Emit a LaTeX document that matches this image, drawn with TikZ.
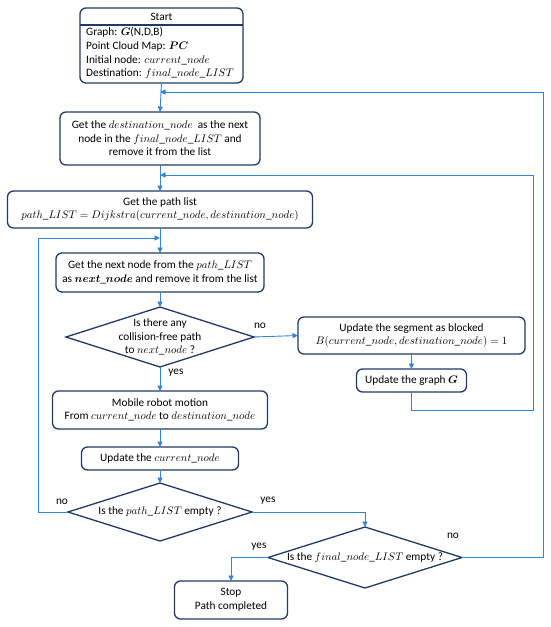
\documentclass[tikz,border=0pt]{standalone}
\usepackage{amsmath}
\usepackage{fontspec}
\setmainfont{Carlito}
\DeclareMathSizes{11.3}{10.6}{7.5}{5.5}
\usetikzlibrary{shapes.geometric,arrows.meta}
\definecolor{navy}{HTML}{1F3B66}
\definecolor{flow}{HTML}{3583D4}
\tikzset{
  box/.style={draw=navy, line width=1.3pt, rounded corners=6pt, inner sep=0pt, outer sep=0pt, align=center, font=\fontsize{11.3}{13.6}\selectfont},
  dia/.style={draw=navy, line width=1.3pt, diamond, inner sep=0pt, outer sep=0pt},
  txt/.style={align=center, inner sep=0pt, font=\fontsize{11.3}{13.6}\selectfont},
  lbl/.style={inner sep=0pt, font=\fontsize{11.3}{13.6}\selectfont},
  flowline/.style={draw=flow, line width=0.9pt},
  arr/.style={flowline, -{Triangle[length=5.5pt,width=5pt]}}
}
\begin{document}
\begin{tikzpicture}[x=1pt,y=-1pt]
\useasboundingbox (0,0) rectangle (550,627);
% Start box
\node[box, minimum width=163pt, minimum height=75pt] (start) at (161.5,45.5) {};
\draw[navy, line width=1.1pt] (start.west |- 0,25) -- (start.east |- 0,25);
\node[txt, anchor=center] (starttitle) at (161.5,17) {Start};
\node[txt, anchor=north west, align=left] (starttext) at (86,27.5) {Graph: $\boldsymbol{G}$(N,D,B)\\Point Cloud Map: $\boldsymbol{PC}$\\Initial node: $current\_node$\\Destination: $final\_node\_LIST$};
% Boxes
\node[box, minimum width=200pt, minimum height=53pt] (getdest) at (160,138.5) {Get the $destination\_node$ \ as the next\\node in the $final\_node\_LIST$ and\\remove it from the list};
\node[box, minimum width=305pt, minimum height=37pt] (pathlist) at (160,209.5) {Get the path list\\$path\_LIST = Dijkstra(current\_node, destination\_node)$};
\node[box, minimum width=208pt, minimum height=39pt] (nextnode) at (160,272.5) {Get the next node from the $path\_LIST$\\as $\boldsymbol{next\_node}$ and remove it from the list};
\node[dia, minimum width=188pt, minimum height=60pt] (d1) at (160,337) {};
\node[txt] (d1t) at (160,337) {Is there any\\collision-free path\\to $next\_node$ ?};
\node[box, minimum width=227pt, minimum height=37pt] (blocked) at (411.5,335.5) {Update the segment as blocked\\$B(current\_node, destination\_node) = 1$};
\node[box, minimum width=110pt, minimum height=23pt] (graph) at (411.5,380.5) {Update the graph $\boldsymbol{G}$};
\node[box, minimum width=215pt, minimum height=38pt] (motion) at (160,410) {Mobile robot motion\\From $current\_node$ to $destination\_node$};
\node[box, minimum width=157pt, minimum height=23pt] (updcur) at (160,458.5) {Update the $current\_node$};
\node[dia, minimum width=184pt, minimum height=58pt] (d2) at (160,512) {};
\node[txt] (d2t) at (160,512) {Is the $path\_LIST$ empty ?};
\node[dia, minimum width=194pt, minimum height=61pt] (d3) at (365,557.5) {};
\node[txt] (d3t) at (365,557.5) {Is the $final\_node\_LIST$ empty ?};
\node[box, minimum width=113pt, minimum height=38pt] (stop) at (231,600) {Stop\\Path completed};
% Junction coordinates
\coordinate (j1) at (160,92);
\coordinate (j2) at (160,175);
\coordinate (j3) at (160,238);
\coordinate (r1) at (533,410);
\coordinate (r2) at (543,92);
\coordinate (l1) at (38,238);
% Connectors
\draw[arr] (start.south) -- (getdest.north);
\draw[arr] (getdest.south) -- (pathlist.north);
\draw[arr] (pathlist.south) -- (nextnode.north);
\draw[arr] (nextnode.south) -- (d1.north);
\draw[arr] (d1.east) -- (blocked.west);
\draw[arr] (blocked.south) -- (graph.north);
\draw[arr] (graph.south) |- (r1) |- (j2);
\draw[arr] (d1.south) -- (motion.north);
\draw[arr] (motion.south) -- (updcur.north);
\draw[arr] (updcur.south) -- (d2.north);
\draw[arr] (d2.west) -| (l1) -- (j3);
\draw[arr] (d2.east) -| (d3.north);
\draw[arr] (d3.east) -| (r2) -- (j1);
\draw[arr] (d3.west) -| (stop.north);
% Labels
\node[lbl] (no1) at (260,326) {no};
\node[lbl] (yes1) at (176,373) {yes};
\node[lbl] (no2) at (62,502) {no};
\node[lbl] (yes2) at (268,501) {yes};
\node[lbl] (no3) at (453,536) {no};
\node[lbl] (yes3) at (259,547) {yes};
\end{tikzpicture}
\end{document}
